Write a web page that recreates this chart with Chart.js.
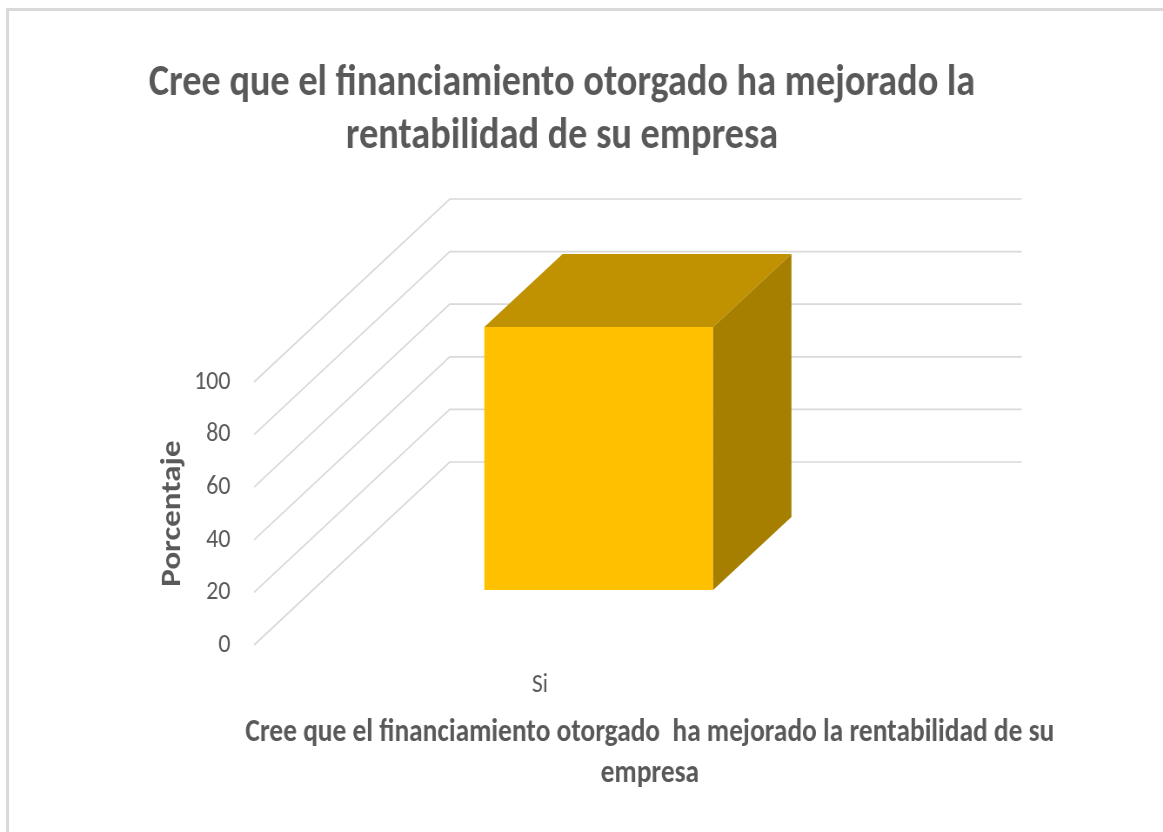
<!DOCTYPE html>
<html>
<head>
<meta charset="utf-8">
<title>Rentabilidad</title>
<script src="https://cdn.jsdelivr.net/npm/chart.js@4.4.0/dist/chart.umd.min.js"></script>
<style>
  html, body { margin: 0; padding: 0; background: #fff; overflow: hidden; }
  #frame { position: absolute; left: 6px; top: 8px; width: 1300px; height: 1000px; border: 3px solid #d9d9d9; }
  #wrap { position: absolute; left: 0; top: 0; width: 1163px; height: 832px; overflow: hidden; }
  /* the original picture is squeezed sideways, so draw wide and squeeze it too */
  #chart { transform: scaleX(0.8699); transform-origin: 0 0; }
</style>
</head>
<body>
<div id="frame"></div>
<div id="wrap"><canvas id="chart" width="1337" height="832"></canvas></div>
<script>
const categories = ["Si"];
const porcentaje = [100];
const yTicks = [0, 20, 40, 60, 80, 100];
const chartTitle = ["Cree que el financiamiento otorgado ha mejorado la", "rentabilidad de su empresa"];
const xTitle = ["Cree que el financiamiento otorgado  ha mejorado la rentabilidad de su", "empresa"];
const yTitle = "Porcentaje";

const GREY = "#595959";
const FONT = "Carlito, Calibri, Lato, sans-serif";

// depth of the 3d box (floor goes back up-right), canvas units
const DEPTH_X = 225, DEPTH_Y = -183;
const BAR_FRONT = 0.3, BAR_DEPTH = 0.4;

const walls3d = {
  id: "walls3d",
  beforeDatasetsDraw(chart) {
    const { ctx, chartArea, scales } = chart;
    ctx.save();
    ctx.strokeStyle = "#d9d9d9";
    ctx.lineWidth = 1.7;
    yTicks.forEach(v => {
      const y = scales.y.getPixelForValue(v);
      ctx.beginPath();
      ctx.moveTo(chartArea.left, y);
      ctx.lineTo(chartArea.left + DEPTH_X, y + DEPTH_Y);
      ctx.lineTo(chartArea.right + DEPTH_X, y + DEPTH_Y);
      ctx.stroke();
    });
    ctx.restore();
    // push the bar front face back into the box
    ctx.save();
    ctx.translate(DEPTH_X * BAR_FRONT, DEPTH_Y * BAR_FRONT);
  },
  afterDatasetsDraw(chart) {
    const { ctx } = chart;
    ctx.restore();
    const ox = DEPTH_X * BAR_FRONT, oy = DEPTH_Y * BAR_FRONT;
    const bx = DEPTH_X * BAR_DEPTH, by = DEPTH_Y * BAR_DEPTH;
    chart.getDatasetMeta(0).data.forEach(bar => {
      const p = bar.getProps(["x", "y", "base", "width"], true);
      const l = p.x - p.width / 2 + ox, r = p.x + p.width / 2 + ox;
      const t = p.y + oy, b = p.base + oy;
      ctx.fillStyle = "#c09100";
      ctx.beginPath();
      ctx.moveTo(l, t); ctx.lineTo(r, t); ctx.lineTo(r + bx, t + by); ctx.lineTo(l + bx, t + by);
      ctx.closePath(); ctx.fill();
      ctx.fillStyle = "#a67f00";
      ctx.beginPath();
      ctx.moveTo(r, t); ctx.lineTo(r + bx, t + by); ctx.lineTo(r + bx, b + by); ctx.lineTo(r, b);
      ctx.closePath(); ctx.fill();
    });
  },
  afterDraw(chart) {
    const { ctx } = chart;
    ctx.save();
    ctx.fillStyle = GREY;
    ctx.font = "bold 31.5px " + FONT;
    ctx.textAlign = "center";
    ctx.textBaseline = "alphabetic";
    xTitle.forEach((line, i) => ctx.fillText(line, 747, 741 + i * 41));
    ctx.restore();
  }
};

new Chart(document.getElementById("chart"), {
  type: "bar",
  data: {
    labels: categories,
    datasets: [{
      label: "Porcentaje",
      data: porcentaje,
      backgroundColor: "#ffc000",
      borderWidth: 0,
      barPercentage: 0.4,
      categoryPercentage: 1,
      clip: false
    }]
  },
  options: {
    responsive: false,
    animation: false,
    layout: { padding: { left: 0, right: 45, top: 0, bottom: 0 } },
    plugins: {
      legend: { display: false },
      tooltip: { enabled: false },
      title: {
        display: true,
        text: chartTitle,
        color: GREY,
        font: { family: FONT, size: 44, weight: "bold", lineHeight: 1.2 },
        padding: { top: 58, bottom: 218.4 }
      }
    },
    scales: {
      x: {
        grid: { display: false, drawTicks: false },
        border: { display: false },
        ticks: { color: GREY, padding: 24, font: { family: FONT, size: 27 } },
        afterFit: s => { s.height = 187; }
      },
      y: {
        min: 0, max: 100,
        grid: { display: false, drawTicks: false },
        border: { display: false },
        ticks: { stepSize: 20, color: GREY, padding: 27, font: { family: FONT, size: 27.5 } },
        title: {
          display: true, text: yTitle, color: GREY,
          font: { family: FONT, size: 33, weight: "bold" },
          padding: { top: 179, bottom: 0 }
        },
        afterFit: s => { s.width = 292; }
      },
      depth: {
        position: "right",
        grid: { display: false },
        border: { display: false },
        ticks: { display: false },
        afterFit: s => { s.width = 342.5; }
      }
    }
  },
  plugins: [walls3d]
});
</script>
</body>
</html>
